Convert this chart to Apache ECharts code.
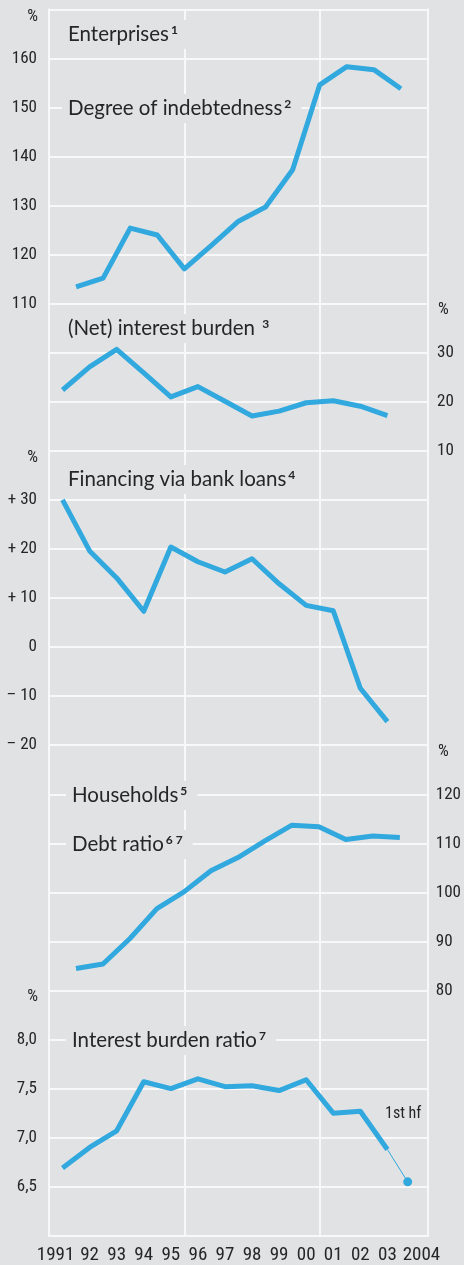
<!DOCTYPE html>
<html>
<head>
<meta charset="utf-8">
<script src="https://cdn.jsdelivr.net/npm/echarts@6/dist/echarts.min.js"></script>
<style>
html,body{margin:0;padding:0;background:#e1e2e4;}
#c{width:464px;height:1265px;}
</style>
</head>
<body>
<div id="c"></div>
<script>
// ---- data ----
const years = [1991,1992,1993,1994,1995,1996,1997,1998,1999,2000,2001,2002,2003];
const xLabels = ['1991','92','93','94','95','96','97','98','99','00','01','02','03','2004'];
// Enterprises
const indebtedness = [113.4,115.2,125.4,124.0,117.1,121.9,126.8,129.7,137.3,154.6,158.3,157.7,153.8]; // end of year
const netInterestBurden = [22.4,27.1,30.7,25.9,21.0,23.1,20.1,17.1,18.1,19.8,20.2,19.1,17.2]; // annual
const bankLoans = [30.0,19.6,14.1,7.3,20.4,17.4,15.3,18.0,12.9,8.5,7.4,-8.4,-15.2]; // annual
// Households
const debtRatio = [84.5,85.4,90.6,96.7,100.1,104.4,107.1,110.5,113.7,113.4,110.8,111.5,111.2]; // end of year
const interestBurdenRatio = [6.69,6.90,7.07,7.57,7.50,7.60,7.52,7.53,7.48,7.59,7.25,7.27,6.88]; // annual
const firstHalf2004 = {label:'1st hf', year:2004, value:6.55};

const panel1Ticks = [110,120,130,140,150,160];
const panel2Ticks = [10,20,30];
const panel3Ticks = [-20,-10,0,10,20,30];
const panel4Ticks = [80,90,100,110,120];
const panel5Ticks = [6.5,7.0,7.5,8.0];

// ---- style ----
const BG = '#e1e2e4', GRIDC = '#f8f8f8', LINEC = '#31a8de', TXT = '#262626';
const NARROW = "'Liberation Sans Narrow','Roboto Condensed','DejaVu Sans Condensed','Noto Sans'";
const TITLEF = "Lato,'Noto Sans',sans-serif";
const U = 49.06, TOP = 9.3, L = 49, R = 36;
const g = (k, n) => ({left: L, right: R, top: TOP + k*U, height: n*U});

const endOfYear = arr => years.map((y,i)=>[y+1, arr[i]]);
const midYear = arr => years.map((y,i)=>[y+0.5, arr[i]]);

const hiddenX = gi => ({type:'value', gridIndex:gi, min:1991, max:2005, show:false});
const labelY = (gi, pos, min, max, interval, shown, fmt) => ({
  type:'value', gridIndex:gi, position:pos, min, max, interval,
  axisLine:{show:false}, axisTick:{show:false}, splitLine:{show:false},
  axisLabel:{
    color:TXT, fontFamily:NARROW, fontSize:17, margin: pos==='left'?12:9,
    formatter: v => shown.some(s=>Math.abs(s-v)<1e-6) ? fmt(v) : ''
  }
});
const lineSeries = (gi, data) => ({
  type:'line', xAxisIndex:gi, yAxisIndex:gi, data, symbol:'none', clip:false,
  lineStyle:{color:LINEC, width:5, join:'round'}, silent:true
});

const title = (txt, sup, x, y) => ({
  type:'text', left:x, top:y, z:100,
  style:{
    text:'{t|'+txt+'}{s|'+sup+'}',
    rich:{
      t:{fontFamily:TITLEF, fontSize:20.5, fill:TXT, lineHeight:21},
      s:{fontFamily:TITLEF, fontSize:12, fontWeight:'bold', fill:TXT, verticalAlign:'top', padding:[0,0,0,2]}
    },
    backgroundColor:BG, padding:[4,10,4,6]
  }
});
const pct = (x, y, align) => ({
  type:'text', x, y, z:100,
  style:{text:'%', fontFamily:NARROW, fontSize:17, fill:TXT, align, verticalAlign:'middle'}
});

const chart = echarts.init(document.getElementById('c'), null, {renderer:'canvas'});
chart.setOption({
  animation:false,
  backgroundColor:BG,
  grid:[g(0,25), g(0,6), g(6,4), g(10,5), g(16,4), g(20,5)],
  xAxis:[
    {type:'category', gridIndex:0, data:xLabels, boundaryGap:true, position:'bottom',
     axisLine:{lineStyle:{color:GRIDC, width:2}},
     axisTick:{inside:true, length:15, lineStyle:{color:GRIDC, width:2}},
     axisLabel:{color:TXT, fontFamily:NARROW, fontSize:19, margin:10, interval:0,
       formatter: v => v==='1991' ? '{a|1991}{p| }' : (v==='2004' ? '{p| }{a|2004}' : v),
       rich:{a:{fontFamily:NARROW, fontSize:19, color:TXT}, p:{width:14}}},
     splitLine:{show:false}},
    // frame for 5-year vertical grid lines (years elapsed since start of 1991)
    {type:'value', gridIndex:0, min:0, max:xLabels.length, interval:5, position:'top',
     axisLine:{show:false}, axisTick:{show:false}, axisLabel:{show:false},
     splitLine:{show:true, lineStyle:{color:GRIDC, width:2}}},
    hiddenX(1), hiddenX(2), hiddenX(3), hiddenX(4), hiddenX(5)
  ],
  yAxis:[
    {type:'value', gridIndex:0, min:0, max:25, interval:1,
     axisLine:{show:true, lineStyle:{color:GRIDC, width:2}}, axisTick:{show:false}, axisLabel:{show:false},
     splitLine:{show:true, lineStyle:{color:GRIDC, width:2}}},
    {type:'value', gridIndex:0, min:0, max:25, interval:1, position:'right',
     axisLine:{show:true, lineStyle:{color:GRIDC, width:2}}, axisTick:{show:false}, axisLabel:{show:false},
     splitLine:{show:false}},
    labelY(1,'left',110,170,10,panel1Ticks, v=>String(v)),
    labelY(2,'right',0,40,10,panel2Ticks, v=>String(v)),
    labelY(3,'left',-20,30,10,panel3Ticks, v=> v>0 ? '+ '+v : (v<0 ? '\u2013 '+(-v) : '0')),
    labelY(4,'right',80,120,10,panel4Ticks, v=>String(v)),
    labelY(5,'left',6,8.5,0.5,panel5Ticks, v=>v.toFixed(1).replace('.',','))
  ],
  series:[
    lineSeries(2, endOfYear(indebtedness)),
    lineSeries(3, midYear(netInterestBurden)),
    lineSeries(4, midYear(bankLoans)),
    lineSeries(5, endOfYear(debtRatio)),
    lineSeries(6, midYear(interestBurdenRatio)),
    {type:'line', xAxisIndex:6, yAxisIndex:6, clip:false, silent:true,
     data:[[years[years.length-1]+0.5, interestBurdenRatio[interestBurdenRatio.length-1]], [firstHalf2004.year+0.25, firstHalf2004.value]],
     symbol:'circle', showSymbol:true, showAllSymbol:true,
     symbolSize:(v,p)=> p.dataIndex===1 ? 9 : 0,
     itemStyle:{color:LINEC}, lineStyle:{color:LINEC, width:1}},
  ],
  graphic:[
    title('Enterprises','1',62,20),
    title('Degree of indebtedness','2',62,94),
    title('(Net) interest burden ','3',62,314),
    title('Financing via bank loans','4',62,465),
    title('Households','5',66,781),
    title('Debt ratio','6 7',66,830),
    title('Interest burden ratio','7',66,1026),
    {type:'text', x:385, y:1114, z:100, style:{text:firstHalf2004.label, fontFamily:NARROW, fontSize:16, fill:TXT, verticalAlign:'middle'}},
    pct(38,17,'right'), pct(438,310,'left'), pct(38,458,'right'), pct(438,752,'left'), pct(38,997,'right')
  ]
});
</script>
</body>
</html>
